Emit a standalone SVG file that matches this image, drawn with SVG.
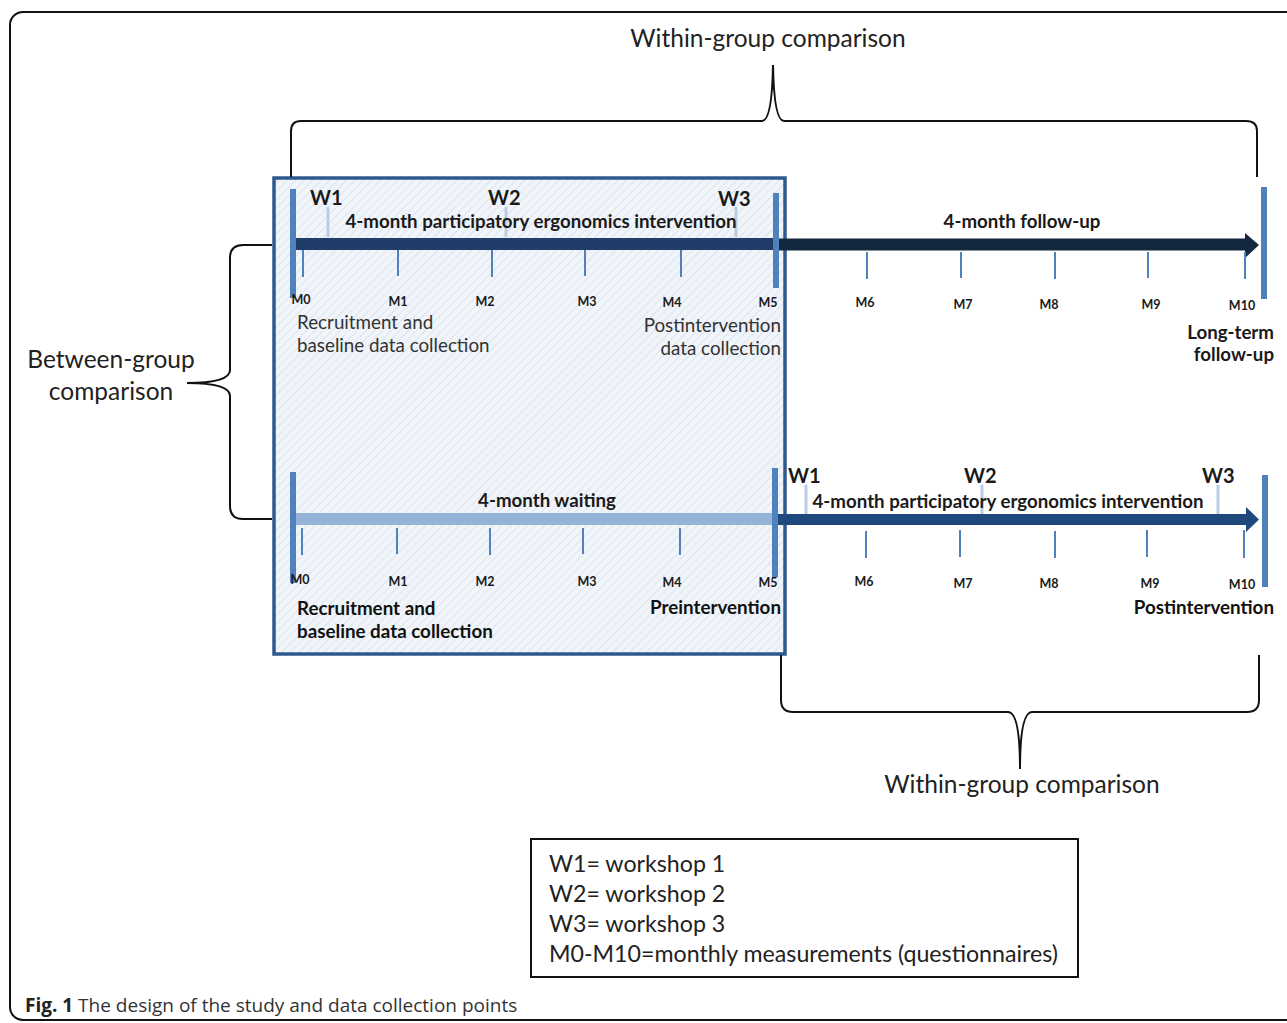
<svg xmlns="http://www.w3.org/2000/svg" width="1287" height="1023" viewBox="0 0 1287 1023">
<style>
text{font-family:Lato,"Open Sans","Liberation Sans",sans-serif;fill:#1a1a1a}
.b{font-weight:bold}
.m{font-size:12.5px;font-weight:bold;text-anchor:middle}
.w{font-size:20px;font-weight:bold}
.ph{font-size:18.7px;font-weight:bold}
.n{font-size:18.8px;fill:#333}
.nb{font-size:18.8px;font-weight:bold;fill:#111}
.big{font-size:24.5px;fill:#222}
.leg{font-size:23.2px;fill:#222}
.bar{fill:#4f81bd}
.tick{stroke:#4f81bd;stroke-width:2}
.wt{stroke:#b9cde5;stroke-width:3}
.brace{fill:none;stroke:#111;stroke-width:2}
.cap{font-family:"Open Sans","Liberation Sans",sans-serif;font-size:19px;fill:#333}
</style>
<defs>
<pattern id="hatch" width="6" height="6" patternUnits="userSpaceOnUse" patternTransform="rotate(45)">
<rect width="6" height="6" fill="#f1f5fa"/>
<line x1="0" y1="0" x2="0" y2="6" stroke="#d3dfec" stroke-width="1.5"/>
</pattern>
</defs>
<rect x="10" y="12" width="1295" height="1008" rx="13" fill="#fff" stroke="#111" stroke-width="2"/>
<g id="shaded-box"><rect x="274" y="178" width="511" height="476" fill="url(#hatch)" stroke="#2d5a8e" stroke-width="3.5"/></g>
<g id="connectors">
<path class="brace" d="M291,177 V131 Q291,121 301,121 H762 Q772,121 773,65 Q774,121 784,121 H1246 Q1257,121 1257,131 V177"/>
<path class="brace" d="M272,245 H243 Q230,245 230,258 V370 Q230,383 187,383 Q230,383 230,396 V506 Q230,519 243,519 H272"/>
<path class="brace" d="M781,655 V700 Q781,712 793,712 H1008 Q1020,712 1020,769 Q1020,712 1032,712 H1247 Q1259,712 1259,700 V655"/>
<rect x="296" y="238" width="478" height="12" fill="#1f3d68"/>
<path d="M779,238.5 H1245 V233 L1259,245 L1245,258 V250.5 H779 Z" fill="#14283f"/>
<rect x="296" y="513" width="477" height="12" fill="#95b3d7"/>
<path d="M778,514 H1246 V507 L1259,519.5 L1246,532 V525 H778 Z" fill="#1f497d"/>
</g>
<g id="top-timeline">
<rect class="bar" x="290" y="189" width="6" height="109"/>
<rect class="bar" x="773" y="193" width="6" height="95"/>
<rect class="bar" x="1261" y="187" width="6" height="112"/>
<line class="tick" x1="303" y1="250" x2="303" y2="277"/>
<line class="tick" x1="398" y1="250" x2="398" y2="276"/>
<line class="tick" x1="492" y1="250" x2="492" y2="277"/>
<line class="tick" x1="585" y1="250" x2="585" y2="276"/>
<line class="tick" x1="681" y1="250" x2="681" y2="277"/>
<line class="tick" x1="867" y1="252" x2="867" y2="279"/>
<line class="tick" x1="961" y1="252" x2="961" y2="278"/>
<line class="tick" x1="1055" y1="252" x2="1055" y2="279"/>
<line class="tick" x1="1148" y1="252" x2="1148" y2="278"/>
<line class="tick" x1="1245" y1="252" x2="1245" y2="279"/>
<line class="wt" x1="328" y1="207" x2="328" y2="237"/>
<line class="wt" x1="506" y1="207" x2="506" y2="237"/>
<line class="wt" x1="736" y1="207" x2="736" y2="237"/>
<text class="w" x="310" y="205">W1</text>
<text class="w" x="488" y="205">W2</text>
<text class="w" x="718" y="206">W3</text>
<text class="ph" x="541" y="228" text-anchor="middle">4-month participatory ergonomics intervention</text>
<text class="ph" x="1022" y="228" text-anchor="middle">4-month follow-up</text>
<text class="m" x="301" y="304">M0</text>
<text class="m" x="398" y="306">M1</text>
<text class="m" x="485" y="306">M2</text>
<text class="m" x="587" y="306">M3</text>
<text class="m" x="672" y="307">M4</text>
<text class="m" x="768" y="307">M5</text>
<text class="m" x="865" y="307">M6</text>
<text class="m" x="963" y="309">M7</text>
<text class="m" x="1049" y="309">M8</text>
<text class="m" x="1151" y="309">M9</text>
<text class="m" x="1242" y="310">M10</text>
<text class="n" x="297" y="329">Recruitment and</text>
<text class="n" x="297" y="352">baseline data collection</text>
<text class="n" x="781" y="332" text-anchor="end">Postintervention</text>
<text class="n" x="781" y="355" text-anchor="end">data collection</text>
<text class="ph" x="1274" y="339" text-anchor="end">Long-term</text>
<text class="ph" x="1274" y="361" text-anchor="end">follow-up</text>
</g>
<g id="bottom-timeline">
<rect class="bar" x="290" y="472" width="6" height="111"/>
<rect class="bar" x="772" y="468" width="6" height="109"/>
<rect class="bar" x="1262" y="475" width="6" height="112"/>
<line class="tick" x1="302" y1="528" x2="302" y2="555"/>
<line class="tick" x1="397" y1="528" x2="397" y2="554"/>
<line class="tick" x1="490" y1="528" x2="490" y2="555"/>
<line class="tick" x1="583" y1="528" x2="583" y2="554"/>
<line class="tick" x1="680" y1="528" x2="680" y2="555"/>
<line class="tick" x1="866" y1="531" x2="866" y2="558"/>
<line class="tick" x1="960" y1="530" x2="960" y2="557"/>
<line class="tick" x1="1055" y1="531" x2="1055" y2="558"/>
<line class="tick" x1="1147" y1="530" x2="1147" y2="557"/>
<line class="tick" x1="1244" y1="530" x2="1244" y2="558"/>
<line class="wt" x1="806" y1="485" x2="806" y2="514"/>
<line class="wt" x1="982" y1="485" x2="982" y2="514"/>
<line class="wt" x1="1218" y1="485" x2="1218" y2="514"/>
<text class="w" x="788" y="483">W1</text>
<text class="w" x="964" y="483">W2</text>
<text class="w" x="1202" y="483">W3</text>
<text class="ph" x="547" y="507" text-anchor="middle">4-month waiting</text>
<text class="ph" x="1008" y="508" text-anchor="middle">4-month participatory ergonomics intervention</text>
<text class="m" x="300" y="584">M0</text>
<text class="m" x="398" y="586">M1</text>
<text class="m" x="485" y="586">M2</text>
<text class="m" x="587" y="586">M3</text>
<text class="m" x="672" y="587">M4</text>
<text class="m" x="768" y="587">M5</text>
<text class="m" x="864" y="586">M6</text>
<text class="m" x="963" y="588">M7</text>
<text class="m" x="1049" y="588">M8</text>
<text class="m" x="1150" y="588">M9</text>
<text class="m" x="1242" y="589">M10</text>
<text class="nb" x="297" y="615">Recruitment and</text>
<text class="nb" x="297" y="638">baseline data collection</text>
<text class="nb" x="781" y="614" text-anchor="end">Preintervention</text>
<text class="nb" x="1274" y="614" text-anchor="end">Postintervention</text>
</g>
<g id="labels">
<text class="big" x="768" y="47" text-anchor="middle">Within-group comparison</text>
<text class="big" x="1022" y="793" text-anchor="middle">Within-group comparison</text>
<text class="big" x="111" y="368" text-anchor="middle">Between-group</text>
<text class="big" x="111" y="400" text-anchor="middle">comparison</text>
</g>
<g id="legend">
<rect x="531" y="839" width="547" height="138" fill="#fff" stroke="#111" stroke-width="2"/>
<text class="leg" x="549" y="872">W1= workshop 1</text>
<text class="leg" x="549" y="902">W2= workshop 2</text>
<text class="leg" x="549" y="932">W3= workshop 3</text>
<text class="leg" x="549" y="962">M0-M10=monthly measurements (questionnaires)</text>
</g>
<g id="caption">
<text class="cap" x="25" y="1012"><tspan font-weight="bold" fill="#222">Fig. 1</tspan> The design of the study and data collection points</text>
</g>
</svg>
